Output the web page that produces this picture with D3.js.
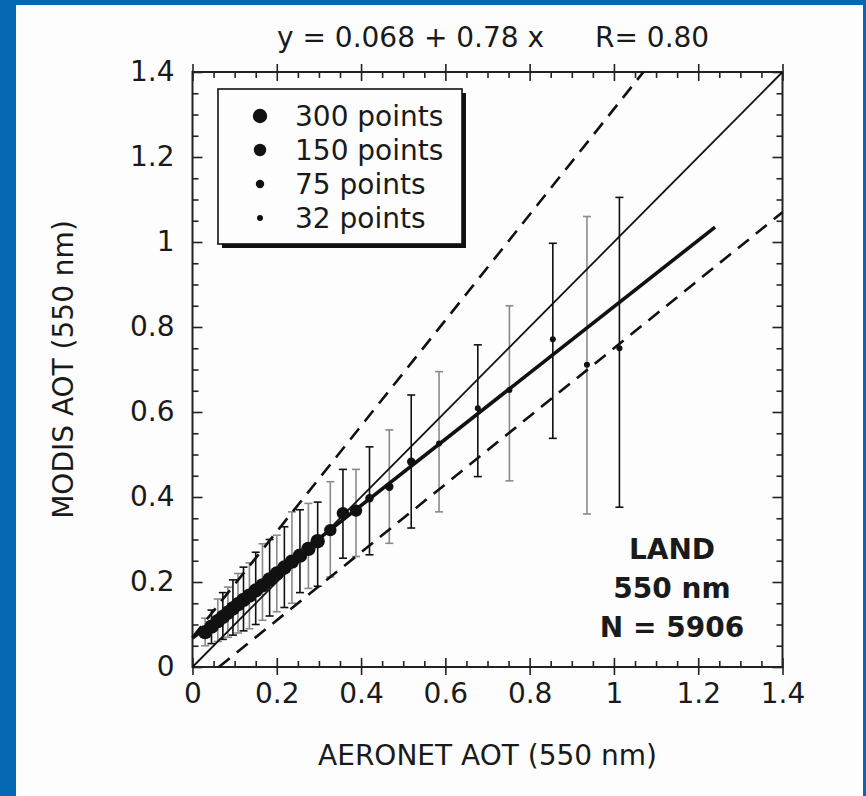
<!DOCTYPE html>
<html>
<head>
<meta charset="utf-8">
<script src="https://cdn.jsdelivr.net/npm/d3@7"></script>
<style>
  body { margin: 0; padding: 0; background: #0568b3; }
  svg { display: block; }
  text { font-family: "DejaVu Sans", sans-serif; fill: #1a1a1a; }
</style>
</head>
<body>
<div id="chart"></div>
<script>
// Binned Data (AERONET mean, MODIS mean, MODIS -1 sigma, MODIS +1 sigma, points per bin)
const binX  = [0.030, 0.045, 0.060, 0.072, 0.084, 0.096, 0.108, 0.121, 0.135, 0.150,
               0.166, 0.183, 0.200, 0.218, 0.236, 0.255, 0.275, 0.297, 0.327, 0.357,
               0.388, 0.420, 0.467, 0.519, 0.585, 0.677, 0.752, 0.855, 0.936, 1.013];
const binY  = [0.082, 0.095, 0.108, 0.118, 0.128, 0.138, 0.148, 0.158, 0.168, 0.180,
               0.192, 0.206, 0.220, 0.234, 0.248, 0.262, 0.278, 0.296, 0.322, 0.362,
               0.368, 0.397, 0.424, 0.483, 0.526, 0.609, 0.652, 0.771, 0.711, 0.750];
const binLo = [0.050, 0.055, 0.060, 0.065, 0.070, 0.075, 0.080, 0.085, 0.090, 0.100,
               0.110, 0.120, 0.130, 0.140, 0.150, 0.175, 0.185, 0.190, 0.212, 0.256,
               0.260, 0.264, 0.291, 0.327, 0.365, 0.448, 0.438, 0.538, 0.360, 0.376];
const binHi = [0.115, 0.134, 0.160, 0.175, 0.188, 0.205, 0.220, 0.235, 0.245, 0.270,
               0.290, 0.300, 0.310, 0.330, 0.365, 0.370, 0.385, 0.388, 0.436, 0.465,
               0.465, 0.518, 0.558, 0.640, 0.695, 0.758, 0.850, 0.997, 1.060, 1.105];
const binN  = [300, 300, 300, 300, 300, 300, 300, 300, 300, 300,
               300, 300, 300, 300, 300, 300, 300, 300, 150, 150,
               150, 75, 75, 75, 32, 32, 32, 32, 32, 32];

// Reference Lines (endpoints)
const oneToOneX = [0, 1.4],     oneToOneY = [0, 1.4];
const fitX      = [0, 1.24],    fitY      = [0.068, 1.035];
const upperX    = [0, 1.07],    upperY    = [0.07, 1.4];
const lowerX    = [0.0625, 1.4], lowerY   = [0, 1.07];

// Legend And Labels
const legendN = [300, 150, 75, 32];
const legendLabels = ["300 points", "150 points", "75 points", "32 points"];
const tickValues = [0, 0.2, 0.4, 0.6, 0.8, 1, 1.2, 1.4];
const tickLabels = ["0", "0.2", "0.4", "0.6", "0.8", "1", "1.2", "1.4"];
const landLines = ["LAND", "550 nm", "N = 5906"];

// Dimensions
let w = 866, h = 796;
let pLeft = 192.5, pRight = 782.5, pTop = 72, pBottom = 667;

let svg = d3.select("#chart").append("svg").attr("width", w).attr("height", h);

// Blue Frame & White Panel
svg.append("rect").attr("width", w).attr("height", h).attr("fill", "#0568b3");
svg.append("rect").attr("x", 16).attr("y", 5).attr("width", 847).attr("height", h - 5).attr("fill", "#fdfdfd");

// Scales
let x = d3.scaleLinear().domain([0, 1.4]).range([pLeft, pRight]);
let y = d3.scaleLinear().domain([0, 1.4]).range([pBottom, pTop]);
let radius = d3.scaleOrdinal().domain(legendN).range([7.2, 6.2, 4.2, 3]);
let fmt = (d) => tickLabels[tickValues.indexOf(d)];

// Minor Ticks
let minor = x.ticks(28).filter((d) => tickValues.indexOf(+d.toFixed(2)) < 0);
let axisColor = "#222";

function styleAxis(g) {
  g.select(".domain").remove();
  g.selectAll(".tick line").attr("stroke", axisColor).attr("stroke-width", 1.6);
}

// Minor Ticks On All Sides (inward)
svg.append("g").attr("transform", "translate(0," + pBottom + ")")
  .call(d3.axisBottom(x).tickValues(minor).tickSize(-6).tickFormat("")).call(styleAxis);
svg.append("g").attr("transform", "translate(0," + pTop + ")")
  .call(d3.axisTop(x).tickValues(minor).tickSize(-6).tickFormat("")).call(styleAxis);
svg.append("g").attr("transform", "translate(" + pLeft + ",0)")
  .call(d3.axisLeft(y).tickValues(minor).tickSize(-6).tickFormat("")).call(styleAxis);
svg.append("g").attr("transform", "translate(" + pRight + ",0)")
  .call(d3.axisRight(y).tickValues(minor).tickSize(-6).tickFormat("")).call(styleAxis);

// Major Ticks
svg.append("g").attr("transform", "translate(0," + pBottom + ")")
  .call(d3.axisBottom(x).tickValues(tickValues).tickSize(-9).tickFormat("")).call(styleAxis);
svg.append("g").attr("transform", "translate(0," + pTop + ")")
  .call(d3.axisTop(x).tickValues(tickValues).tickSize(-9).tickFormat("")).call(styleAxis);
svg.append("g").attr("transform", "translate(" + pLeft + ",0)")
  .call(d3.axisLeft(y).tickValues(tickValues).tickSize(-10).tickFormat("")).call(styleAxis);
svg.append("g").attr("transform", "translate(" + pRight + ",0)")
  .call(d3.axisRight(y).tickValues(tickValues).tickSize(-10).tickFormat("")).call(styleAxis);

// Outward Half Of Crossing Ticks + Labels (x axes)
let xb = svg.append("g").attr("transform", "translate(0," + pBottom + ")")
  .call(d3.axisBottom(x).tickValues(tickValues).tickSize(8).tickPadding(8).tickFormat(fmt)).call(styleAxis);
xb.selectAll("text").attr("font-size", 28).attr("dy", "0.72em").attr("fill", "#1a1a1a");
svg.append("g").attr("transform", "translate(0," + pTop + ")")
  .call(d3.axisTop(x).tickValues(tickValues).tickSize(8).tickFormat("")).call(styleAxis);

let yl = svg.append("g").attr("transform", "translate(" + pLeft + ",0)")
  .call(d3.axisLeft(y).tickValues(tickValues).tickSize(0).tickPadding(18).tickFormat(fmt)).call(styleAxis);
yl.selectAll("text").attr("font-size", 28).attr("fill", "#1a1a1a");

// Frame
svg.append("rect").attr("x", pLeft).attr("y", pTop).attr("width", pRight - pLeft).attr("height", pBottom - pTop)
  .attr("fill", "none").attr("stroke", axisColor).attr("stroke-width", 2);

// Error Bars
let bins = binX.map((d, i) => ({ x: d, y: binY[i], lo: binLo[i], hi: binHi[i], n: binN[i] }));
let bars = svg.append("g").selectAll("g.bar").data(bins).enter().append("g").attr("class", "bar")
  .attr("stroke", (d, i) => i % 2 ? "#111" : "#8a8a8a").attr("stroke-width", 1.6);
bars.append("line").attr("x1", (d) => x(d.x)).attr("x2", (d) => x(d.x))
  .attr("y1", (d) => y(d.lo)).attr("y2", (d) => y(d.hi));
bars.append("line").attr("x1", (d) => x(d.x) - 4).attr("x2", (d) => x(d.x) + 4)
  .attr("y1", (d) => y(d.lo)).attr("y2", (d) => y(d.lo));
bars.append("line").attr("x1", (d) => x(d.x) - 4).attr("x2", (d) => x(d.x) + 4)
  .attr("y1", (d) => y(d.hi)).attr("y2", (d) => y(d.hi));

// Lines
let line = d3.line().x((d) => x(d[0])).y((d) => y(d[1]));
let plot = svg.append("g");
plot.append("path").datum(d3.zip(oneToOneX, oneToOneY)).attr("d", line)
  .attr("fill", "none").attr("stroke", "#111").attr("stroke-width", 1.8);
plot.append("path").datum(d3.zip(upperX, upperY)).attr("d", line)
  .attr("fill", "none").attr("stroke", "#111").attr("stroke-width", 2.6).attr("stroke-dasharray", "14,9");
plot.append("path").datum(d3.zip(lowerX, lowerY)).attr("d", line)
  .attr("fill", "none").attr("stroke", "#111").attr("stroke-width", 2.6).attr("stroke-dasharray", "14,9");
plot.append("path").datum(d3.zip(fitX, fitY)).attr("d", line)
  .attr("fill", "none").attr("stroke", "#111").attr("stroke-width", 3.6);

// Points
svg.append("g").selectAll("circle").data(bins).enter().append("circle")
  .attr("cx", (d) => x(d.x)).attr("cy", (d) => y(d.y)).attr("r", (d) => radius(d.n)).attr("fill", "#111");

// Legend
let lg = svg.append("g");
lg.append("rect").attr("x", 222).attr("y", 93).attr("width", 244).attr("height", 155).attr("fill", "#111");
lg.append("rect").attr("x", 218).attr("y", 89).attr("width", 244).attr("height", 155)
  .attr("fill", "#fdfdfd").attr("stroke", "#111").attr("stroke-width", 1.6);
let rows = lg.selectAll("g.row").data(legendN).enter().append("g").attr("class", "row")
  .attr("transform", (d, i) => "translate(0," + (116 + i * 34) + ")");
rows.append("circle").attr("cx", 260).attr("cy", 0).attr("r", (d) => radius(d)).attr("fill", "#111");
rows.append("text").attr("x", 295).attr("y", 10).attr("font-size", 28).text((d, i) => legendLabels[i]);

// Title
svg.append("text").attr("x", 277).attr("y", 47).attr("font-size", 28).text("y = 0.068 + 0.78 x");
svg.append("text").attr("x", 595).attr("y", 47).attr("font-size", 28).text("R= 0.80");

// Axis Titles
svg.append("text").attr("x", (pLeft + pRight) / 2).attr("y", 765).attr("text-anchor", "middle")
  .attr("font-size", 28).text("AERONET AOT (550 nm)");
svg.append("text").attr("transform", "translate(73," + ((pTop + pBottom) / 2) + ") rotate(-90)")
  .attr("text-anchor", "middle").attr("font-size", 28).text("MODIS AOT (550 nm)");

// Land Annotation
svg.append("g").selectAll("text").data(landLines).enter().append("text")
  .attr("x", 672).attr("y", (d, i) => 559 + i * 39).attr("text-anchor", "middle")
  .attr("font-size", 28).attr("font-weight", "bold").text((d) => d);
</script>
</body>
</html>
